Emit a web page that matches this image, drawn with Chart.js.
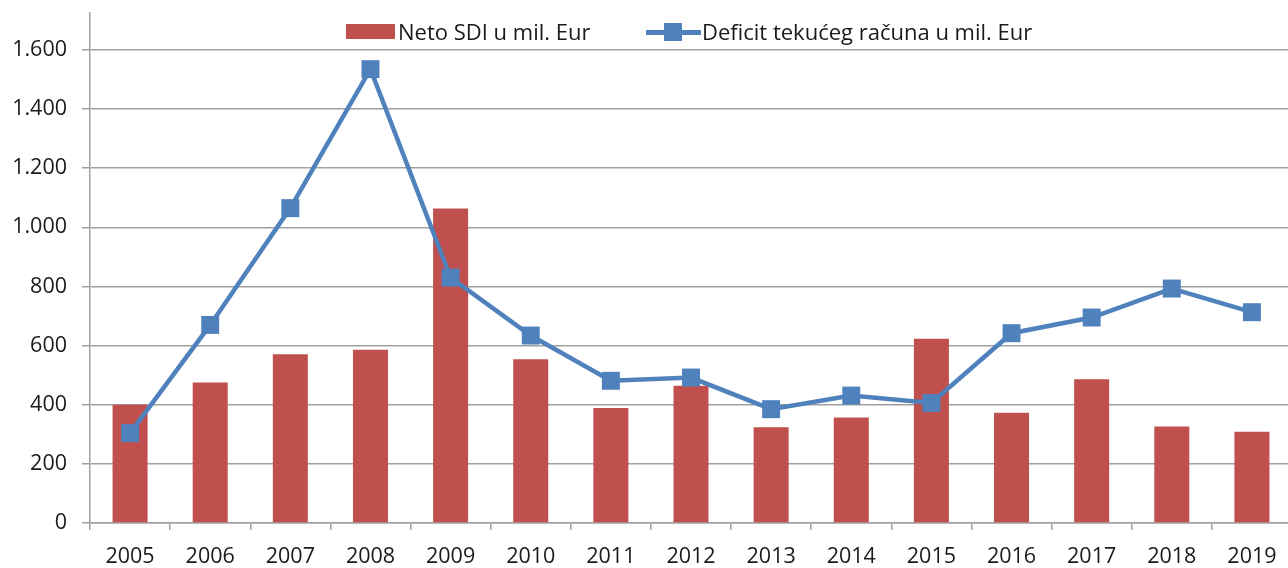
<!DOCTYPE html>
<html><head><meta charset="utf-8">
<script src="https://cdn.jsdelivr.net/npm/chart.js@4/dist/chart.umd.min.js"></script>
<style>
html,body{margin:0;padding:0;background:#fff;overflow:hidden;width:1288px;height:568px;}
#wrap{position:relative;width:1292px;height:568px;}
canvas{display:block;}
.lg{position:absolute;font-family:"Open Sans",sans-serif;font-size:22px;color:#1a1a1a;line-height:30px;white-space:nowrap;}
.box{position:absolute;background:#C0504D;}
.ln{position:absolute;background:#4F81BD;}
</style>
</head><body>
<div id="wrap">
<canvas id="c" width="1292" height="568"></canvas>
<div class="box" style="left:346px;top:24px;width:49px;height:15px;"></div>
<div class="lg" style="left:398px;top:16px;">Neto SDI u mil. Eur</div>
<div class="ln" style="left:646px;top:30px;width:55px;height:5px;"></div>
<div class="ln" style="left:664px;top:23px;width:18px;height:18px;"></div>
<div class="lg" style="left:702px;top:16px;">Deficit tekućeg računa u mil. Eur</div>
</div>
<script>
const years = ["2005","2006","2007","2008","2009","2010","2011","2012","2013","2014","2015","2016","2017","2018","2019"];
const netoSDI = [400,475,571,586,1064,554,389,464,324,357,623,373,486,326,309];
const deficit = [304,670,1065,1535,830,634,481,492,385,431,406,642,695,793,713];
const seriesNames = ["Neto SDI u mil. Eur","Deficit tekućeg računa u mil. Eur"];

const GRID = '#A0A0A0';
const TXT = '#1a1a1a';
const fmt = v => String(v).replace(/\B(?=(\d{3})+(?!\d))/g, '.');

new Chart(document.getElementById('c'), {
  data: {
    labels: years,
    datasets: [
      {
        type: 'line', label: seriesNames[1], data: deficit, order: 0,
        borderColor: '#4F81BD', backgroundColor: '#4F81BD', borderWidth: 4.5,
        pointStyle: 'rect', pointRadius: 12.7, pointBorderWidth: 0,
        pointBackgroundColor: '#4F81BD', tension: 0, fill: false, clip: false
      },
      {
        type: 'bar', label: seriesNames[0], data: netoSDI, order: 1,
        backgroundColor: '#C0504D', borderWidth: 0,
        categoryPercentage: 1, barPercentage: 0.437
      }
    ]
  },
  options: {
    responsive: false, animation: false, devicePixelRatio: 1,
    layout: { autoPadding: false, padding: { top: 13, left: 0, right: 0, bottom: 0 } },
    plugins: { legend: { display: false }, tooltip: { enabled: false } },
    scales: {
      x: {
        offset: true,
        grid: { display: true, offset: true, drawOnChartArea: false, drawTicks: true, tickLength: 7, color: GRID, lineWidth: 1.5 },
        border: { display: true, color: GRID, width: 1.5 },
        ticks: { font: { family: 'Open Sans', size: 21.5 }, color: TXT, padding: 14, maxRotation: 0, autoSkip: false },
        afterFit: s => { s.height = 45; s.paddingLeft = 0; s.paddingRight = 0; }
      },
      y: {
        min: 0, max: 1725,
        afterBuildTicks: s => { s.ticks = s.ticks.filter(t => t.value % 200 === 0); },
        grid: { color: GRID, lineWidth: 1.5, drawTicks: true, tickLength: 8 },
        border: { display: true, color: GRID, width: 1.5 },
        ticks: { stepSize: 200, font: { family: 'Open Sans', size: 21.5 }, color: TXT, padding: 15, callback: v => fmt(v) },
        afterFit: s => { s.width = 90; s.paddingTop = 0; s.paddingBottom = 0; }
      }
    }
  }
});
</script>
</body></html>
